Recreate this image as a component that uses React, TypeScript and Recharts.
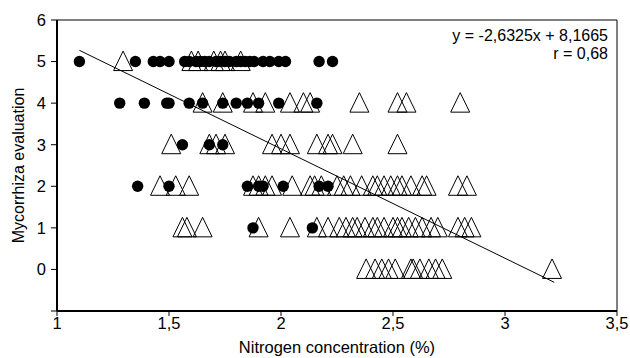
import React from 'react';
import { ScatterChart, Scatter, XAxis, YAxis, ReferenceLine } from 'recharts';

const xTicks = [1, 1.5, 2, 2.5, 3, 3.5];
const yTicks = [-1, 0, 1, 2, 3, 4, 5, 6];

// Filled circles (x = nitrogen %, grouped by evaluation level)
const circlesAt5 = [1.1, 1.35, 1.43, 1.46, 1.5, 1.57, 1.59, 1.62, 1.64, 1.66, 1.68, 1.71, 1.73, 1.75, 1.77, 1.8, 1.82, 1.84, 1.86, 1.88, 1.92, 1.95, 1.99, 2.02, 2.17, 2.23];
const circlesAt4 = [1.28, 1.39, 1.49, 1.5, 1.59, 1.65, 1.74, 1.8, 1.85, 1.9, 1.99, 2.16];
const circlesAt3 = [1.56, 1.68, 1.74];
const circlesAt2 = [1.36, 1.5, 1.85, 1.9, 1.92, 2.01, 2.17, 2.21];
const circlesAt1 = [1.875, 2.14];

// Open triangles
const trianglesAt5 = [1.295, 1.6, 1.63, 1.7, 1.73, 1.75, 1.82];
const trianglesAt4 = [1.65, 1.74, 1.875, 1.93, 2.04, 2.1, 2.13, 2.35, 2.52, 2.56, 2.8];
const trianglesAt3 = [1.51, 1.68, 1.71, 1.75, 1.96, 2.0, 2.04, 2.16, 2.21, 2.23, 2.32, 2.52];
const trianglesAt2 = [1.46, 1.53, 1.59, 1.875, 1.9, 1.93, 1.96, 2.05, 2.13, 2.15, 2.18, 2.25, 2.28, 2.31, 2.36, 2.41, 2.43, 2.46, 2.49, 2.52, 2.54, 2.58, 2.63, 2.65, 2.79, 2.83];
const trianglesAt1 = [1.56, 1.58, 1.65, 1.9, 2.04, 2.16, 2.21, 2.26, 2.29, 2.32, 2.34, 2.375, 2.41, 2.43, 2.46, 2.5, 2.52, 2.54, 2.57, 2.6, 2.63, 2.67, 2.7, 2.79, 2.82, 2.85];
const trianglesAt0 = [2.38, 2.42, 2.45, 2.48, 2.51, 2.58, 2.59, 2.62, 2.66, 2.69, 2.72, 3.21];

// Trend line
const slope = -2.6325;
const intercept = 8.1665;
const trendStart = 1.1;
const trendEnd = 3.22;

const toPoints = (xs: number[], y: number) => xs.map((x) => ({ x, y }));

const circles = [
  ...toPoints(circlesAt5, 5),
  ...toPoints(circlesAt4, 4),
  ...toPoints(circlesAt3, 3),
  ...toPoints(circlesAt2, 2),
  ...toPoints(circlesAt1, 1),
];

const triangles = [
  ...toPoints(trianglesAt5, 5),
  ...toPoints(trianglesAt4, 4),
  ...toPoints(trianglesAt3, 3),
  ...toPoints(trianglesAt2, 2),
  ...toPoints(trianglesAt1, 1),
  ...toPoints(trianglesAt0, 0),
];

const TriangleShape = (props: any) => {
  const { cx, cy } = props;
  if (cx == null || cy == null) return null;
  const d = `M${cx},${cy - 10.5} L${cx + 9.5},${cy + 9} L${cx - 9.5},${cy + 9} Z`;
  return <path d={d} fill="none" stroke="#000" strokeWidth={1} />;
};

const CircleShape = (props: any) => {
  const { cx, cy } = props;
  if (cx == null || cy == null) return null;
  return <circle cx={cx} cy={cy} r={5.7} fill="#000" />;
};

const fmtX = (v: number) => String(v).replace('.', ',');
const fmtY = (v: number) => (v < 0 ? '' : String(v));

export default function App() {
  const font = '"Liberation Sans", Arial, sans-serif';
  return (
    <div style={{ position: 'absolute', left: 0, top: 0, width: 630, height: 358, fontFamily: font, background: '#fff' }}>
      <ScatterChart width={630} height={358} margin={{ top: 20, right: 13, bottom: 0, left: 0 }}>
        <XAxis
          type="number"
          dataKey="x"
          domain={[1, 3.5]}
          ticks={xTicks}
          tickFormatter={fmtX}
          height={47}
          axisLine={{ stroke: '#000', strokeWidth: 2 }}
          tickLine={{ stroke: '#000', strokeWidth: 1 }}
          tickSize={5}
          tickMargin={1}
          tick={{ fill: '#000', fontSize: 16.5 }}
          interval={0}
          allowDataOverflow
          label={{ value: 'Nitrogen concentration (%)', position: 'insideBottom', offset: 5, fill: '#000', fontSize: 16.5 }}
        />
        <YAxis
          type="number"
          dataKey="y"
          domain={[-1, 6]}
          ticks={yTicks}
          tickFormatter={fmtY}
          width={57}
          axisLine={{ stroke: '#000', strokeWidth: 2 }}
          tickLine={{ stroke: '#000', strokeWidth: 1 }}
          tickSize={6}
          tickMargin={5}
          tick={{ fill: '#000', fontSize: 16.5 }}
          interval={0}
          allowDataOverflow
          label={{ value: 'Mycorrhiza evaluation', angle: -90, position: 'insideLeft', offset: 18, fill: '#000', fontSize: 16, style: { textAnchor: 'middle' } }}
        />
        <ReferenceLine y={6} stroke="#000" strokeWidth={1} />
        <ReferenceLine x={3.5} stroke="#000" strokeWidth={1} />
        <Scatter data={triangles} shape={TriangleShape} isAnimationActive={false} />
        <Scatter data={circles} shape={CircleShape} isAnimationActive={false} />
        <ReferenceLine
          segment={[
            { x: trendStart, y: intercept + slope * trendStart },
            { x: trendEnd, y: intercept + slope * trendEnd },
          ]}
          stroke="#000"
          strokeWidth={1}
          ifOverflow="visible"
        />
      </ScatterChart>
      <div style={{ position: 'absolute', right: 22, top: 27, textAlign: 'right', fontSize: 16, lineHeight: '18px', color: '#000', whiteSpace: 'nowrap' }}>
        <div>y = -2,6325x + 8,1665</div>
        <div>r = 0,68</div>
      </div>
    </div>
  );
}
